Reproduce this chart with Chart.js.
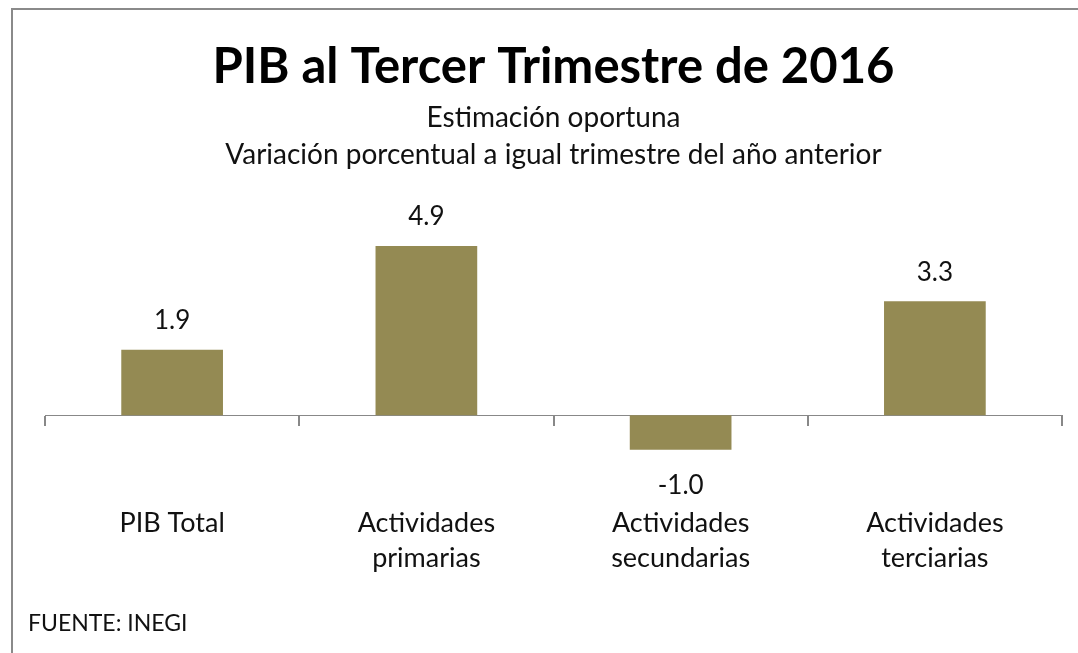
<!DOCTYPE html>
<html>
<head>
<meta charset="utf-8">
<script src="https://cdn.jsdelivr.net/npm/chart.js@4.4.0/dist/chart.umd.min.js"></script>
<style>
  html, body { margin: 0; padding: 0; background: #fff; }
  #wrap { position: relative; width: 1078px; height: 653px; overflow: hidden; }
  #frame { position: absolute; left: 11px; top: 8px; right: -4px; bottom: -4px; border-left: 2px solid #8a8a8a; border-top: 2px solid #8a8a8a; }
  #source { position: absolute; left: 28px; top: 608px; font: 23px Lato; color: #111; }
</style>
</head>
<body>
<div id="wrap">
  <canvas id="chart" width="1078" height="653"></canvas>
  <div id="frame"></div>
  <div id="source"></div>
</div>
<script>
const categories = ['PIB Total', ['Actividades', 'primarias'], ['Actividades', 'secundarias'], ['Actividades', 'terciarias']];
const values = [1.9, 4.9, -1.0, 3.3];
const titleText = 'PIB al Tercer Trimestre de 2016';
const subtitleLines = ['Estimación oportuna', 'Variación porcentual a igual trimestre del año anterior'];
const sourceText = 'FUENTE: INEGI';

const barColor = '#948a53';
const axisColor = '#888888';
const textColor = '#111111';

document.getElementById('source').textContent = sourceText;

// value labels above positive bars, below negative ones
const barLabels = {
  id: 'barLabels',
  afterDatasetsDraw(chart) {
    const ctx = chart.ctx;
    const meta = chart.getDatasetMeta(0);
    ctx.save();
    ctx.font = '26px Lato';
    ctx.fillStyle = textColor;
    ctx.textAlign = 'center';
    ctx.textBaseline = 'middle';
    meta.data.forEach((bar, i) => {
      const v = values[i];
      const y = v >= 0 ? bar.y - 29 : bar.y + 36;
      ctx.fillText(v.toFixed(1), bar.x, y);
    });
    ctx.restore();
  }
};

const ctx = document.getElementById('chart').getContext('2d');
new Chart(ctx, {
  type: 'bar',
  data: {
    labels: categories,
    datasets: [{
      data: values,
      backgroundColor: barColor,
      borderWidth: 0,
      barPercentage: 0.4,
      categoryPercentage: 1
    }]
  },
  options: {
    responsive: false,
    animation: false,
    layout: { padding: { left: 45, right: 16, top: 0, bottom: 134 } },
    plugins: {
      legend: { display: false },
      tooltip: { enabled: false },
      title: {
        display: true,
        text: titleText,
        color: '#000',
        font: { family: 'Lato', size: 49, weight: 'bold', lineHeight: 1.2 },
        padding: { top: 38, bottom: 0 }
      },
      subtitle: {
        display: true,
        text: subtitleLines,
        color: textColor,
        font: { family: 'Lato', size: 28, lineHeight: 1.32 },
        padding: { top: 2.7, bottom: 34.5 }
      }
    },
    scales: {
      x: {
        position: { y: 0 },
        offset: true,
        afterFit: (scale) => { scale.paddingLeft = 0; scale.paddingRight = 0; },
        grid: { display: true, drawOnChartArea: false, drawTicks: true, tickLength: 10, color: axisColor, lineWidth: 2, offset: true },
        border: { display: true, color: axisColor, width: 1 },
        ticks: {
          padding: 80.5,
          color: textColor,
          maxRotation: 0,
          autoSkip: false,
          font: { family: 'Lato', size: 27, lineHeight: 1.3 }
        }
      },
      y: { display: false, min: -3, max: 6 }
    }
  },
  plugins: [barLabels]
});
</script>
</body>
</html>
